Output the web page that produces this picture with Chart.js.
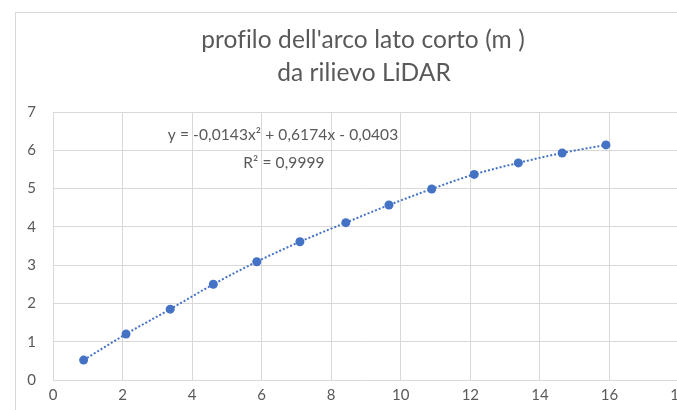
<!DOCTYPE html>
<html lang="it">
<head>
    <meta charset="UTF-8">
    <title>profilo dell'arco lato corto</title>
    <script src="https://cdn.jsdelivr.net/npm/chart.js"></script>
    <style>
        html, body { margin: 0; padding: 0; background: #fff; overflow: hidden; }
        #wrap { position: absolute; left: 0; top: 0; width: 720px; height: 410px; }
    </style>
</head>
<body>
    <div id="wrap"><canvas id="chart" width="720" height="410"></canvas></div>

    <script>
        // Dati (distanza orizzontale, quota in m)
        const xValues = [0.88, 2.10, 3.37, 4.61, 5.86, 7.10, 8.42, 9.66, 10.89, 12.11, 13.38, 14.64, 15.90];
        const yValues = [0.52, 1.20, 1.85, 2.50, 3.09, 3.61, 4.11, 4.57, 4.99, 5.37, 5.67, 5.93, 6.14];
        const xTicks = [0, 2, 4, 6, 8, 10, 12, 14, 16, 18];
        const yTicks = [0, 1, 2, 3, 4, 5, 6, 7];

        const titleLines = ["profilo dell'arco lato corto (m )", "da rilievo LiDAR"];
        const equationLines = ["y = -0,0143x\u00B2 + 0,6174x - 0,0403", "R\u00B2 = 0,9999"];

        const points = xValues.map((x, i) => ({ x: x, y: yValues[i] }));
        const textColor = '#595959';
        const gridColor = '#d9d9d9';
        const blue = '#4472C4';

        // Bordo esterno, titolo ed equazione della linea di tendenza
        const decorations = {
            id: 'decorations',
            beforeDraw(chart) {
                const ctx = chart.ctx;
                ctx.save();
                ctx.strokeStyle = gridColor;
                ctx.lineWidth = 1;
                ctx.strokeRect(15.5, 12.5, 900, 600);
                ctx.restore();
            },
            afterDraw(chart) {
                const ctx = chart.ctx;
                ctx.save();
                ctx.fillStyle = textColor;
                ctx.textAlign = 'center';
                ctx.textBaseline = 'alphabetic';
                ctx.letterSpacing = '0.1px'; // niente legatura "fi"
                ctx.font = '24.5px Lato';
                ctx.fillText(titleLines[0], 363, 48);
                ctx.fillText(titleLines[1], 364, 81);
                ctx.font = '15.5px Lato';
                ctx.textBaseline = 'middle';
                ctx.fillText(equationLines[0], 283, 135);
                ctx.fillText(equationLines[1], 284, 163);
                ctx.restore();
            }
        };

        new Chart(document.getElementById('chart').getContext('2d'), {
            type: 'scatter',
            data: {
                datasets: [{
                    data: points,
                    showLine: true,
                    borderColor: blue,
                    borderWidth: 2,
                    borderDash: [2, 2],
                    cubicInterpolationMode: 'monotone',
                    pointRadius: 4.5,
                    pointBackgroundColor: blue,
                    pointBorderWidth: 0,
                    clip: false
                }]
            },
            options: {
                responsive: false,
                animation: false,
                devicePixelRatio: 1,
                layout: { padding: { left: 13, right: 41, top: 112, bottom: 10 } },
                plugins: {
                    legend: { display: false },
                    tooltip: { enabled: false },
                    title: { display: false }
                },
                scales: {
                    x: {
                        type: 'linear',
                        min: 0,
                        max: 18,
                        afterBuildTicks: (scale) => { scale.ticks = xTicks.map(v => ({ value: v })); },
                        afterFit: (scale) => { scale.height = 20; },
                        grid: { color: gridColor, drawTicks: false },
                        border: { color: gridColor },
                        ticks: { color: textColor, padding: 6, font: { family: 'Lato', size: 15 } }
                    },
                    y: {
                        type: 'linear',
                        min: 0,
                        max: 7,
                        afterBuildTicks: (scale) => { scale.ticks = yTicks.map(v => ({ value: v })); },
                        afterFit: (scale) => { scale.width = 40; },
                        grid: { color: gridColor, drawTicks: false },
                        border: { color: gridColor },
                        ticks: { color: textColor, padding: 17, font: { family: 'Lato', size: 15 } }
                    }
                }
            },
            plugins: [decorations]
        });
    </script>
</body>
</html>
